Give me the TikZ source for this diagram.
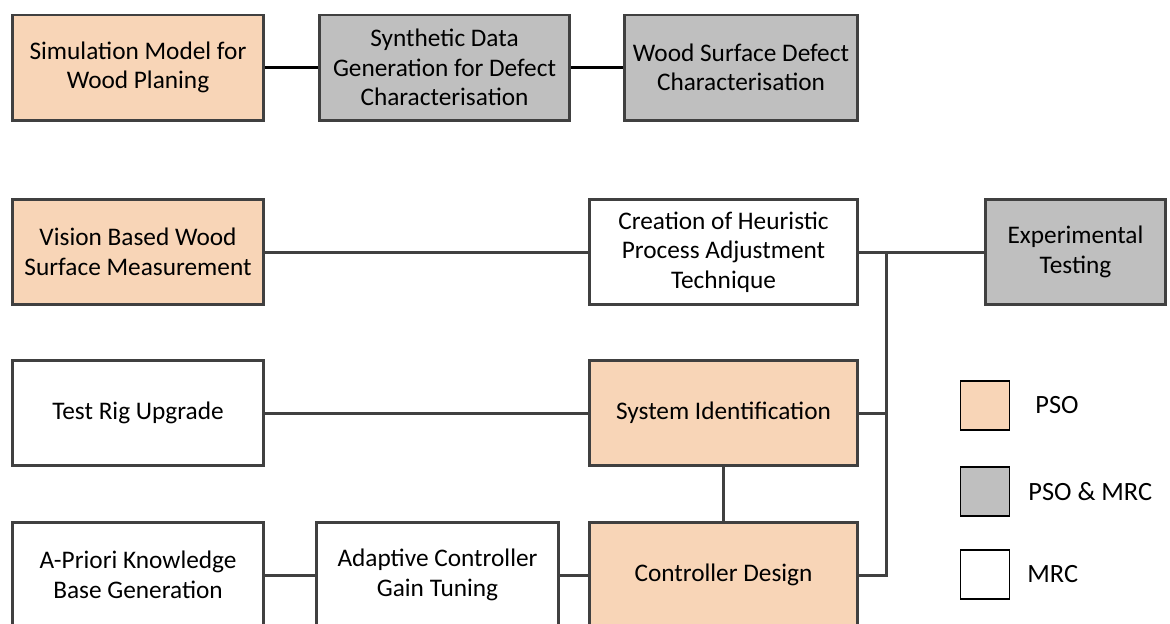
\documentclass[tikz,border=0pt]{standalone}
\usepackage{fontspec}
\setmainfont{Carlito}
\usetikzlibrary{positioning}

\definecolor{psofill}{RGB}{248,213,183}
\definecolor{bothfill}{RGB}{191,191,191}
\definecolor{edge}{RGB}{64,64,64}

\begin{document}
\begin{tikzpicture}[
    box/.style={draw=edge, line width=1.7pt, align=center, minimum height=2.1cm,
      inner sep=2pt, font=\fontsize{14.4}{16.8}\selectfont},
    pso/.style={box, fill=psofill},
    both/.style={box, fill=bothfill},
    mrc/.style={box, fill=white},
    link/.style={draw=edge, line width=1.7pt},
    key/.style={draw=black, line width=0.6pt, minimum size=0.98cm, inner sep=0pt},
    keytext/.style={inner sep=0pt, font=\fontsize{15}{18}\selectfont}
  ]
  \useasboundingbox (0,0) rectangle (23.4,-12.46);

  % top row
  \node[pso, minimum width=5.02cm] (simmodel) at (2.76,-1.35) {Simulation Model for\\Wood Planing};
  \node[both, minimum width=5cm] (syndata) at (8.89,-1.35) {Synthetic Data\\Generation for Defect\\Characterisation};
  \node[both, minimum width=4.66cm] (defect) at (14.82,-1.35) {Wood Surface Defect\\Characterisation};
  \draw[link, draw=black] (simmodel) -- (syndata);
  \draw[link, draw=black] (syndata) -- (defect);

  % process chain
  \node[pso, minimum width=5.02cm] (vision) at (2.76,-5.04) {Vision Based Wood\\Surface Measurement};
  \node[mrc, minimum width=5.36cm] (heuristic) at (14.47,-5.04) {Creation of Heuristic\\Process Adjustment\\Technique};
  \node[both, minimum width=3.6cm] (testing) at (21.51,-5.04) {Experimental\\Testing};

  \node[mrc, minimum width=5.02cm] (rig) at (2.76,-8.26) {Test Rig Upgrade};
  \node[pso, minimum width=5.36cm] (sysid) at (14.47,-8.26) {System Identification};

  \node[mrc, minimum width=5.02cm] (priori) at (2.76,-11.5) {A-Priori Knowledge\\Base Generation};
  \node[mrc, minimum width=4.84cm] (gain) at (8.75,-11.5) {Adaptive Controller\\Gain Tuning};
  \node[pso, minimum width=5.36cm] (ctrl) at (14.47,-11.5) {Controller Design};

  \coordinate (bus) at (17.72,-5.04);

  \draw[link] (vision) -- (heuristic);
  \draw[link] (heuristic) -- (testing);
  \draw[link] (bus) |- (ctrl.east);
  \draw[link] (sysid.east) -- (sysid.east -| bus);
  \draw[link] (rig) -- (sysid);
  \draw[link] (sysid) -- (ctrl);
  \draw[link] (priori) -- (gain);
  \draw[link] (gain) -- (ctrl);

  % legend
  \node[key, fill=psofill] (psokey) at (19.7,-8.11) {};
  \node[key, fill=bothfill] (bothkey) at (19.7,-9.83) {};
  \node[key, fill=white] (mrckey) at (19.7,-11.49) {};
  \node[keytext, right=0.5cm of psokey] (psolabel) {PSO};
  \node[keytext, right=0.36cm of bothkey] (bothlabel) {PSO \& MRC};
  \node[keytext, right=0.34cm of mrckey] (mrclabel) {MRC};
\end{tikzpicture}
\end{document}
